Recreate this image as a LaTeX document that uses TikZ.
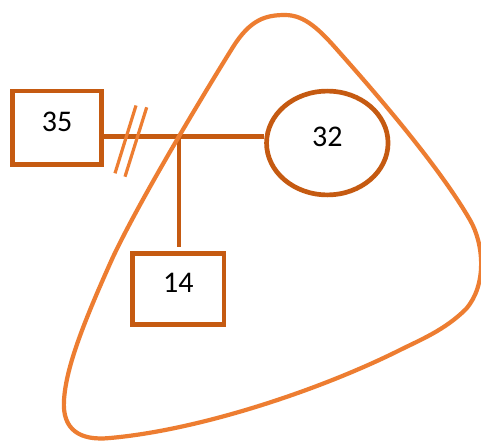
\documentclass[tikz,border=0pt]{standalone}
\usepackage{fontspec}
\setmainfont{Carlito}
\usetikzlibrary{shapes.geometric}
\definecolor{dk}{HTML}{C55A11}
\definecolor{lt}{HTML}{ED7D31}
\begin{document}
\begin{tikzpicture}[x=1pt,y=-1pt,
  lbl/.style={font=\fontsize{30}{34}\selectfont, text depth=12pt, inner sep=0pt},
  box/.style={lbl, draw=dk, line width=4.7pt, rectangle},
  oval/.style={lbl, draw=dk, line width=4.7pt, ellipse},
  conn/.style={draw=dk, line width=4.5pt},
  slash/.style={draw=lt, line width=3.2pt},
  blob/.style={draw=lt, line width=4.2pt}
]
\useasboundingbox (0,0) rectangle (481,441);
\fill[white] (0,0) rectangle (481,441);
\node[box, minimum width=89pt, minimum height=73.5pt] (b35) at (57.1,127.8) {35};
\node[box, minimum width=91.5pt, minimum height=71.5pt] (b14) at (178.3,289) {14};
\node[oval, minimum width=121.5pt, minimum height=103.8pt] (e32) at (327.3,143) {32};
\coordinate (j) at (179.2,136.7);
\draw[conn] (j -| b35.east) -- (j) -- (j -| e32.west);
\draw[conn, shorten >=4pt] (j) -- (j |- b14.north);
\draw[slash] (115,173.3) -- (136,105.5);
\draw[slash] (125,176.7) -- (146.7,107.3);
\draw[blob] (233,47) .. controls (250,20) and (265,15) .. (285,15)
  .. controls (305,15) and (320,30) .. (340,53)
  .. controls (380,98) and (440,168) .. (470,220)
  .. controls (484,244) and (487,285) .. (466,309)
  .. controls (445,330) and (420,340) .. (400,350)
  .. controls (320,390) and (200,430) .. (110,438)
  .. controls (80,441) and (62,430) .. (64,400)
  .. controls (66,370) and (80,330) .. (113,257)
  .. controls (140,200) and (200,100) .. cycle;
\end{tikzpicture}
\end{document}
